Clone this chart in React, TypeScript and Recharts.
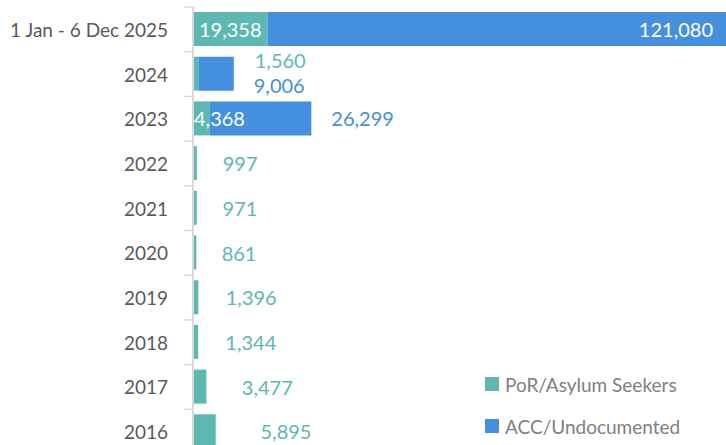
import React from 'react';
import { BarChart, Bar, XAxis, YAxis, Legend, LabelList } from 'recharts';

const categories = ['1 Jan - 6 Dec 2025', '2024', '2023', '2022', '2021', '2020', '2019', '2018', '2017', '2016'];
const porValues = [19358, 1560, 4368, 997, 971, 861, 1396, 1344, 3477, 5895];
const accValues = [121080, 9006, 26299, 0, 0, 0, 0, 0, 0, 0];
const seriesNames = ['PoR/Asylum Seekers', 'ACC/Undocumented'];

const TEAL = '#5DB8B1';
const BLUE = '#448FDE';
const FONT = 'Lato, "Open Sans", sans-serif';

const data = categories.map((c, i) => ({ year: c, por: porValues[i], acc: accValues[i] }));
const maxTotal = Math.max(...data.map((d) => d.por + d.acc));
const fmt = (v: number) => Number(v).toLocaleString('en-US');

const txt = { fontFamily: FONT, fontSize: 20, dominantBaseline: 'central' as const };

const PorLabel = (props: any) => {
  const vb = props.viewBox || props;
  const x = Number(props.x ?? vb.x);
  const y = Number(props.y ?? vb.y);
  const width = Number(props.width ?? vb.width);
  const height = Number(props.height ?? vb.height);
  const value = Number(props.value);
  const index = props.index;
  if (!value) return null;
  const acc = accValues[index] || 0;
  const cy = y + height / 2;
  if (acc === 0) {
    return (
      <text x={x + 2 * width + 22} y={cy} fill={TEAL} {...txt}>
        {fmt(value)}
      </text>
    );
  }
  if (width > 10) {
    return (
      <text x={x + (width > 40 ? 6 : 1)} y={cy} fill="#FFFFFF" {...txt}>
        {fmt(value)}
      </text>
    );
  }
  const totalEnd = x + (width * (value + acc)) / value;
  return (
    <text x={totalEnd + 21} y={cy - 14} fill={TEAL} {...txt}>
      {fmt(value)}
    </text>
  );
};

const AccLabel = (props: any) => {
  const vb = props.viewBox || props;
  const x = Number(props.x ?? vb.x);
  const y = Number(props.y ?? vb.y);
  const width = Number(props.width ?? vb.width);
  const height = Number(props.height ?? vb.height);
  const value = Number(props.value);
  const index = props.index;
  if (!value) return null;
  const cy = y + height / 2;
  if (width > 200) {
    return (
      <text x={x + width - 22} y={cy} fill="#FFFFFF" textAnchor="end" {...txt}>
        {fmt(value)}
      </text>
    );
  }
  const por = porValues[index] || 0;
  const porW = (width * por) / value;
  return (
    <text x={x + width + 20} y={porW <= 10 ? cy + 11 : cy} fill={BLUE} {...txt}>
      {fmt(value)}
    </text>
  );
};

const YTick = (props: any) => {
  const { x, y, payload } = props;
  const off = payload && typeof payload.offset === 'number' && payload.offset > 0 ? payload.offset : 22.35;
  return (
    <g>
      <line x1={x + 16} x2={x + 25} y1={y - off} y2={y - off} stroke="#D9D9D9" strokeWidth={1.5} />
      <text
        x={x}
        y={y}
        textAnchor="end"
        dominantBaseline="central"
        fill="#595959"
        fontSize={19}
        fontFamily={FONT}
      >
        {payload.value}
      </text>
    </g>
  );
};

const LegendContent = () => (
  <div style={{ fontFamily: FONT }}>
    {seriesNames.map((n, i) => (
      <div key={n} style={{ display: 'flex', alignItems: 'center', height: 42 }}>
        <span
          style={{ display: 'inline-block', width: 14, height: 14, background: i === 0 ? TEAL : BLUE, marginRight: 6 }}
        />
        <span style={{ fontSize: 19, color: '#7F7F7F', whiteSpace: 'nowrap' }}>{n}</span>
      </div>
    ))}
  </div>
);

export default function App() {
  return (
    <div
      style={{
        position: 'absolute',
        left: 0,
        top: 0,
        width: 726,
        height: 445,
        overflow: 'hidden',
        background: '#FFFFFF',
        fontFamily: FONT,
      }}
    >
      <BarChart
        width={735}
        height={454}
        data={data}
        layout="vertical"
        margin={{ top: 7, right: 0, bottom: 0, left: 0 }}
        barSize={34}
      >
        <XAxis type="number" hide domain={[0, maxTotal]} />
        <YAxis
          type="category"
          dataKey="year"
          width={193}
          axisLine={{ stroke: '#D9D9D9', strokeWidth: 2 }}
          tickLine={false}
          tickSize={9}
          tickMargin={16}
          tick={<YTick />}
          interval={0}
        />
        <Legend
          layout="vertical"
          align="center"
          verticalAlign="middle"
          wrapperStyle={{ position: 'absolute', left: 485, top: 363, width: 240 }}
          content={<LegendContent />}
        />
        <Bar dataKey="por" name={seriesNames[0]} stackId="s" fill={TEAL} isAnimationActive={false}>
          <LabelList dataKey="por" content={<PorLabel />} />
        </Bar>
        <Bar dataKey="acc" name={seriesNames[1]} stackId="s" fill={BLUE} isAnimationActive={false}>
          <LabelList dataKey="acc" content={<AccLabel />} />
        </Bar>
      </BarChart>
    </div>
  );
}
